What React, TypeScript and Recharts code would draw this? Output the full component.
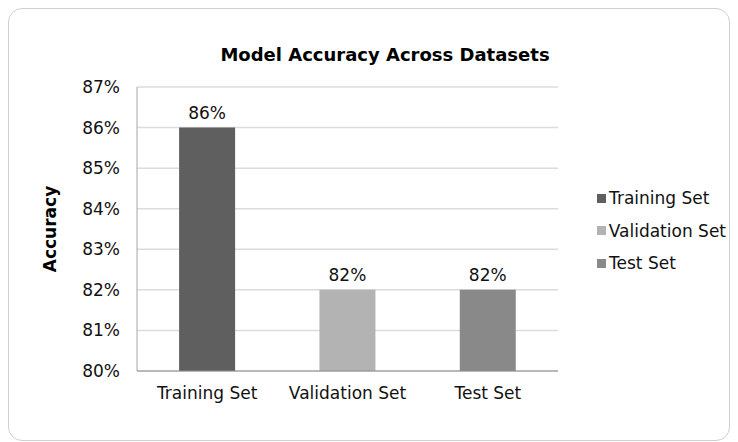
import React from 'react';
import { BarChart, Bar, XAxis, YAxis, CartesianGrid, Cell, LabelList, Legend, Label } from 'recharts';

const categories = ['Training Set', 'Validation Set', 'Test Set'];
const accuracy = [86, 82, 82];
const colors = ['#5f5f5f', '#b3b3b3', '#898989'];
const yTicks = [80, 81, 82, 83, 84, 85, 86, 87];
const title = 'Model Accuracy Across Datasets';
const yLabel = 'Accuracy';

const data = categories.map((name, i) => ({ name, value: accuracy[i] }));

const FONT = '"DejaVu Sans", Verdana, sans-serif';

const LegendContent = () => (
  <div style={{ width: 168, paddingLeft: 39, boxSizing: 'border-box', fontFamily: FONT, fontSize: 17, color: '#111' }}>
    {categories.map((c, i) => (
      <div key={c} style={{ display: 'flex', alignItems: 'center', height: 32.5, whiteSpace: 'nowrap' }}>
        <span style={{ display: 'inline-block', width: 9, height: 9, background: colors[i], marginRight: 3 }} />
        <span>{c}</span>
      </div>
    ))}
  </div>
);

const YLabel = (props: any) => {
  const vb = props.viewBox || {};
  const cx = vb.x + 41;
  const cy = vb.y + vb.height / 2;
  return (
    <text x={cx} y={cy} transform={`rotate(-90 ${cx} ${cy})`} textAnchor="middle" dominantBaseline="central"
      style={{ fontFamily: FONT, fontSize: 17, fontWeight: 'bold', fill: '#000' }}>
      {yLabel}
    </text>
  );
};

export default function App() {
  return (
    <div style={{ position: 'relative', width: 720, height: 431, border: '1px solid #cfcfcf', borderRadius: 14, background: '#fff', fontFamily: FONT }}>
      <div style={{ position: 'absolute', top: 35, left: 0, width: 752, textAlign: 'center', fontSize: 18, fontWeight: 'bold', color: '#000', fontFamily: FONT }}>
        {title}
      </div>
      <BarChart width={720} height={431} data={data} margin={{ top: 78, right: 3, bottom: 39, left: 0 }} barCategoryGap="30%">
        <CartesianGrid vertical={false} stroke="#dcdcdc" strokeWidth={1.5} />
        <XAxis dataKey="name" tickLine={false} tickSize={0} tickMargin={16} axisLine={{ stroke: '#8c8c8c' }}
          tick={{ fontFamily: FONT, fontSize: 17, fill: '#111' }} height={30} />
        <YAxis domain={[80, 87]} ticks={yTicks} tickFormatter={(v: number) => `${v}%`} width={128}
          tickLine={false} tickSize={0} tickMargin={17} axisLine={{ stroke: '#a6a6a6' }}
          tick={{ fontFamily: FONT, fontSize: 17, fill: '#111' }} interval={0}>
          <Label content={<YLabel />} />
        </YAxis>
        <Legend layout="vertical" align="right" verticalAlign="middle" content={<LegendContent />} wrapperStyle={{ top: 173 }} />
        <Bar dataKey="value" isAnimationActive={false}>
          {data.map((d, i) => <Cell key={d.name} fill={colors[i]} />)}
          <LabelList dataKey="value" position="top" offset={9} formatter={(v: any) => `${v}%`}
            style={{ fontFamily: FONT, fontSize: 17, fill: '#111' }} />
        </Bar>
      </BarChart>
    </div>
  );
}
